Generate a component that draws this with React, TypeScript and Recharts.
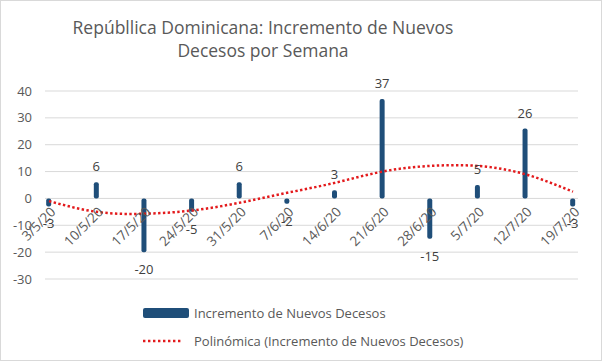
import React from 'react';
import { ComposedChart, Bar, Line, XAxis, YAxis, CartesianGrid, LabelList } from 'recharts';

const categories = ['3/5/20', '10/5/20', '17/5/20', '24/5/20', '31/5/20', '7/6/20', '14/6/20', '21/6/20', '28/6/20', '5/7/20', '12/7/20', '19/7/20'];
const weeklyIncrease = [-3, 6, -20, -5, 6, -2, 3, 37, -15, 5, 26, -3];
const trendValues = [-1, -5, -5.7, -4.5, -1.6, 2.1, 5.8, 10, 12.1, 12.1, 9, 2.5];
const yTicks = [-30, -20, -10, 0, 10, 20, 30, 40];

const titleLines = ['Repúbllica Dominicana: Incremento de Nuevos', 'Decesos por Semana'];
const barName = 'Incremento de Nuevos Decesos';
const trendName = 'Polinómica (Incremento de Nuevos Decesos)';

const data = categories.map((c, i) => ({ week: c, value: weeklyIncrease[i], trend: trendValues[i] }));

const FONT = "'Open Sans', sans-serif";
const TEXT = '#595959';
const BAR = '#1f4e79';
const RED = '#e31a1c';
const GRID = '#d9d9d9';

const CHART_W = 602;
const CHART_H = 361;
const X_AXIS_H = 20;
const MARGIN = { top: 91, right: 24, bottom: 82 - X_AXIS_H, left: 0 };
const PLOT_H = CHART_H - MARGIN.top - MARGIN.bottom - X_AXIS_H;
const Y_MIN = -30;
const Y_MAX = 40;
const ZERO_FROM_BOTTOM = (PLOT_H * (0 - Y_MIN)) / (Y_MAX - Y_MIN);

const XTick = (props: any) => {
  const { x, y, payload } = props;
  const ty = y - ZERO_FROM_BOTTOM;
  return (
    <g transform={`translate(${x + 4},${ty + 11})`}>
      <text transform="rotate(-45)" textAnchor="end" dy="0.35em" fill={TEXT} fontSize={13.5} fontFamily={FONT}>
        {payload.value}
      </text>
    </g>
  );
};

const ValueLabel = (props: any) => {
  const { x, y, width, height, value } = props;
  const top = Math.min(y, y + height);
  const bottom = Math.max(y, y + height);
  const cx = x + width / 2;
  const ly = value >= 0 ? top - 11 : bottom + 22;
  return (
    <text x={cx} y={ly} textAnchor="middle" fill="#404040" fontSize={13} fontFamily={FONT}>
      {value}
    </text>
  );
};

export default function App() {
  return (
    <div
      style={{
        position: 'absolute',
        left: 0,
        top: 0,
        width: CHART_W,
        height: CHART_H,
        boxSizing: 'border-box',
        border: '1px solid #d9d9d9',
        background: '#fff',
        fontFamily: FONT,
      }}
    >
      <div
        style={{
          position: 'absolute',
          left: -1,
          top: 15,
          width: 526,
          textAlign: 'center',
          color: TEXT,
          fontSize: 17.5,
          lineHeight: '23px',
        }}
      >
        <div>{titleLines[0]}</div>
        <div>{titleLines[1]}</div>
      </div>
      <div style={{ position: 'absolute', left: -1, top: -1 }}>
        <ComposedChart width={CHART_W} height={CHART_H} data={data} margin={MARGIN}>
          <CartesianGrid horizontal vertical={false} stroke={GRID} />
          <XAxis
            dataKey="week"
            scale="point"
            padding={{ left: 4, right: 5 }}
            height={X_AXIS_H}
            axisLine={false}
            tickLine={false}
            tickSize={0}
            tickMargin={0}
            interval={0}
            tick={(p: any) => <XTick {...p} />}
          />
          <YAxis
            width={45}
            domain={[Y_MIN, Y_MAX]}
            ticks={yTicks}
            axisLine={false}
            tickLine={false}
            tickSize={0}
            tickMargin={13}
            tick={{ fill: TEXT, fontSize: 13, fontFamily: FONT }}
          />
          <Bar dataKey="value" fill={BAR} barSize={5} radius={2} isAnimationActive={false}>
            <LabelList dataKey="value" content={<ValueLabel />} />
          </Bar>
          <Line
            dataKey="trend"
            type="natural"
            stroke={RED}
            strokeWidth={2.5}
            strokeDasharray="2.4 2.4"
            dot={false}
            activeDot={false}
            isAnimationActive={false}
          />
        </ComposedChart>
      </div>
      <div style={{ position: 'absolute', left: 142, top: 307, width: 46, height: 10, background: BAR, borderRadius: 2 }} />
      <div style={{ position: 'absolute', left: 193, top: 303, fontSize: 13, lineHeight: '18px', color: TEXT, whiteSpace: 'nowrap' }}>
        {barName}
      </div>
      <svg style={{ position: 'absolute', left: 142, top: 336 }} width={42} height={8}>
        <line x1={0} y1={4} x2={40} y2={4} stroke={RED} strokeWidth={2.5} strokeDasharray="2.4 2.6" />
      </svg>
      <div style={{ position: 'absolute', left: 193, top: 331, fontSize: 13, lineHeight: '18px', color: TEXT, whiteSpace: 'nowrap' }}>
        {trendName}
      </div>
    </div>
  );
}
